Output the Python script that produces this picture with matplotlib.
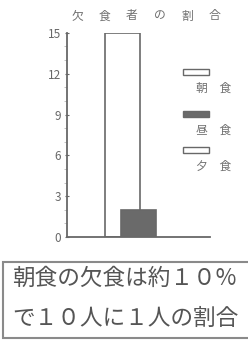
import matplotlib.pyplot as plt
from matplotlib.patches import Rectangle

plt.rcParams['font.family'] = ['Noto Sans CJK JP', 'DejaVu Sans']

# data
meals = ['朝　食', '昼　食', '夕　食']
values = [15, 2, 0]
colors = ['white', '#6a6a6a', 'white']
yticks = [0, 3, 6, 9, 12, 15]
title = '欠食者の割合'
note = ['朝食の欠食は約１０%', 'で１０人に１人の割合']

fig = plt.figure(figsize=(2.48, 3.46), dpi=100)
ax = fig.add_axes([0.270, 0.315, 0.577, 0.590])

gray = '#686868'
for i, (v, c) in enumerate(zip(values, colors)):
    if v > 0:
        ax.bar(0.385 + i * 0.115, v, width=0.245, color=c, edgecolor=gray,
               linewidth=1.2, zorder=2 + i)

ax.set_xlim(0, 1)
ax.set_ylim(0, 15)
ax.set_yticks(yticks)
ax.set_yticks(range(0, 16), minor=True)
ax.set_xticks([])
ax.tick_params(axis='y', colors=gray, labelsize=8.5, length=3, width=0.8,
               direction='inout', pad=3)
ax.tick_params(axis='y', which='minor', colors='#aaaaaa', length=2, width=0.5)
for s in ['top', 'right']:
    ax.spines[s].set_visible(False)
for s in ['left', 'bottom']:
    ax.spines[s].set_color(gray)
    ax.spines[s].set_linewidth(1.3)
    ax.spines[s].set_zorder(6)

# spaced-out title, one character at a time
for i, ch in enumerate(title):
    fig.text((77 + i * 27.5) / 248, (346 - 16) / 346, ch, fontsize=8.5,
             color='#707070', ha='center', va='center')

# legend drawn by hand: patch above its label
leg_y = [346 - 72, 346 - 114, 346 - 150]
for lab, c, yp in zip(meals, colors, leg_y):
    fig.add_artist(Rectangle((183 / 248, (yp - 3) / 346), 26 / 248, 6 / 346,
                             transform=fig.transFigure, facecolor=c,
                             edgecolor=gray, linewidth=1.0))
    fig.text(214 / 248, (yp - 16) / 346, lab, fontsize=8.5, color='#707070',
             ha='center', va='center')

# note box
fig.add_artist(Rectangle((3 / 248, 8 / 346), 250 / 248, 76 / 346,
                         transform=fig.transFigure, facecolor='white',
                         edgecolor='#8a8a8a', linewidth=1.5))
fig.text(12 / 248, (346 - 278) / 346, note[0], fontsize=16.3, color='#555555',
         ha='left', va='center')
fig.text(12 / 248, (346 - 318) / 346, note[1], fontsize=16.3, color='#555555',
         ha='left', va='center')

fig.savefig('out.png', dpi=100)
